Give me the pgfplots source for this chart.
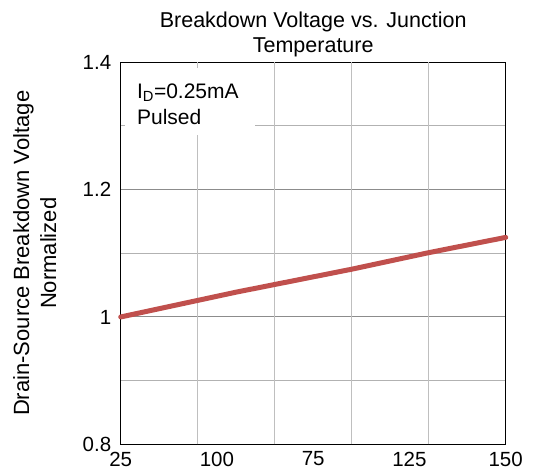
\documentclass[border=0pt]{standalone}
\usepackage{pgfplots}
\pgfplotsset{compat=1.18}
\usepackage{fontspec}
\setmainfont{Liberation Sans}
\definecolor{linered}{HTML}{C0504D}
\begin{document}
\begin{tikzpicture}
\path[use as bounding box] (-120.7bp,-29.7bp) rectangle (412.3bp,444.3bp);
\begin{axis}[
  at={(0,0)}, anchor=south west,
  scale only axis,
  width=385bp, height=382bp,
  xmin=0, xmax=5, ymin=0.8, ymax=1.4,
  axis line style={black, line width=1.2bp},
  font=\fontsize{20.5bp}{24bp}\selectfont,
  /pgf/number format/assume math mode=true,
  xtick={0,1.25,2.5,3.75,5},
  xticklabels={25,100,75,125,150},
  extra x ticks={1,2,3,4},
  extra x tick labels={},
  extra x tick style={grid=major, major grid style={color=black!25, line width=1bp}},
  ytick={0.8,1,1.2,1.4},
  yticklabels={0.8,1,1.2,1.4},
  minor ytick={0.9,1.1,1.3},
  ymajorgrids, yminorgrids,
  major grid style={color=black!45, line width=1bp},
  minor grid style={color=black!30, line width=1bp},
  major tick length=0pt, minor tick length=0pt,
  xticklabel style={yshift=-4bp},
  yticklabel style={xshift=-6bp},
  clip=false,
]
\fill[white] (axis cs:0.06,1.391) rectangle (axis cs:1.74,1.286);
\node[anchor=north west, align=left, inner sep=0pt, font=\fontsize{21bp}{26bp}\selectfont] at (axis cs:0.21,1.366) {I\textsubscript{D}=0.25mA\\Pulsed};
\addplot[linered, line width=5bp, line cap=round] coordinates {
(0,1.000) (0.5,1.013) (1,1.026) (1.5,1.039) (2,1.051) (2.5,1.063)
(3,1.075) (3.5,1.088) (4,1.101) (4.5,1.113) (5,1.125)};
\node[rotate=90, align=center, font=\fontsize{22bp}{27bp}\selectfont] at ([xshift=-86bp]rel axis cs:0,0.5) {Drain-Source Breakdown Voltage\\Normalized};
\node[align=center, font=\fontsize{21.5bp}{25bp}\selectfont] at ([yshift=28bp]rel axis cs:0.5,1) {Breakdown Voltage vs. Junction\\Temperature};
\end{axis}
\end{tikzpicture}
\end{document}
